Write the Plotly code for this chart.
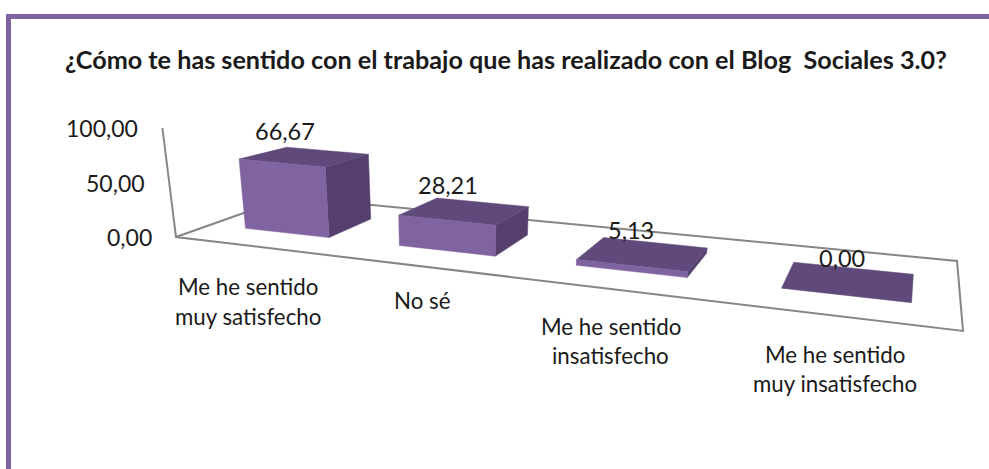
import plotly.graph_objects as go

TITLE = "¿Cómo te has sentido con el trabajo que has realizado con el Blog  Sociales 3.0?"
categories = ["Me he sentido\nmuy satisfecho", "No sé", "Me he sentido\ninsatisfecho", "Me he sentido\nmuy insatisfecho"]
values = [66.67, 28.21, 5.13, 0.00]
y_ticks = [0, 50, 100]

FRONT, TOP, SIDE = "#8063A1", "#604A7B", "#543F6D"
GRID = "#868686"
BORDER = "#8064A2"
TEXT = "#1A1A1A"
FONT = "Lato"

# Projection of the oblique 3D scene: floor (u, v) plus height h
A, B, C = 529.0, 163.8, 176.0
D, E, F = 5.3, -5.4, 237.0
G, H = -0.2679, 0.1757
HEIGHT_SCALE = 1.09
LEAN_X0, LEAN_D = 450.0, 2200.0
BAR_W, V0, V1 = 0.14, 0.28, 0.70


def project(u, v, h=0.0):
    w = 1 + G * u + H * v
    x = (A * u + B * v + C) / w
    y = (D * u + E * v + F) / w
    dy = HEIGHT_SCALE * h / w ** 0.5 / (1 + 0.12 * v)
    return x + dy * (x - LEAN_X0) / LEAN_D, y - dy


def poly(points, fill=None, line=None, lw=0):
    xs = [p[0] for p in points]
    ys = [p[1] for p in points]
    if fill:
        return go.Scatter(x=xs + xs[:1], y=ys + ys[:1], mode="lines", fill="toself", fillcolor=fill,
                          line=dict(color=fill, width=0.5), hoverinfo="skip", showlegend=False)
    return go.Scatter(x=xs, y=ys, mode="lines", line=dict(color=line, width=lw), hoverinfo="skip", showlegend=False)


fig = go.Figure()

# axis wall line and floor outline
fig.add_trace(poly([project(0, 0, y_ticks[-1]), project(0, 0), project(1, 0), project(1, 1), project(0, 1), project(0, 0)],
                   line=GRID, lw=2))

annotations = []


def label(x, y, text, size, anchor="center", bold=False):
    annotations.append(dict(x=x, y=y, xref="x", yref="y", text=f"<b>{text}</b>" if bold else text, showarrow=False,
                            xanchor=anchor, yanchor="middle", font=dict(family=FONT, size=size, color=TEXT)))


LABEL_DX = [-6, 2, -2, -4]
LABEL_DY = [55, 34, 52, 53]
LINE_GAP = 29.5
VALUE_DX = [-2, 10.5, 27, 48.5]
VALUE_DY = [-16, -13, -8, -4]

for i, (cat, val) in enumerate(zip(categories, values)):
    c = (i + 0.52) / len(categories)
    u0, u1 = c - BAR_W / 2, c + BAR_W / 2
    if val > 0:
        fig.add_trace(poly([project(u1, V0), project(u1, V1), project(u1, V1, val), project(u1, V0, val)], fill=SIDE))
    fig.add_trace(poly([project(u0, V0, val), project(u1, V0, val), project(u1, V1, val), project(u0, V1, val)], fill=TOP))
    if val > 0:
        fig.add_trace(poly([project(u0, V0), project(u1, V0), project(u1, V0, val), project(u0, V0, val)], fill=FRONT))

    bx, by = project(u0, V1, val)
    label(bx + VALUE_DX[i], by + VALUE_DY[i], f"{val:.2f}".replace(".", ","), 23.5)

    fx, fy = project(c, 0)
    lines = cat.split("\n")
    for j, line in enumerate(lines):
        ly = fy + LABEL_DY[i] + (j - (len(lines) - 1) / 2) * LINE_GAP
        label(fx + LABEL_DX[i], ly, line, 22.3)

for t in y_ticks:
    tx, ty = project(0, 0, t)
    label(tx - 22, ty, f"{t:.2f}".replace(".", ","), 23, anchor="right")

label(506, 59, TITLE, 25.2, bold=True)

shapes = [
    dict(type="rect", xref="x", yref="y", x0=6, x1=989, y0=14, y1=19, fillcolor=BORDER, line=dict(width=0), layer="below"),
    dict(type="rect", xref="x", yref="y", x0=6, x1=11, y0=14, y1=469, fillcolor=BORDER, line=dict(width=0), layer="below"),
]

fig.update_layout(
    width=989, height=469, margin=dict(l=0, r=0, t=0, b=0), paper_bgcolor="white", plot_bgcolor="white",
    xaxis=dict(range=[0, 989], visible=False, fixedrange=True),
    yaxis=dict(range=[469, 0], visible=False, fixedrange=True),
    annotations=annotations, shapes=shapes, showlegend=False,
)
fig.write_html("out.html", post_script="document.body.style.margin='0';document.body.style.overflow='hidden';",
               config=dict(displayModeBar=False))
